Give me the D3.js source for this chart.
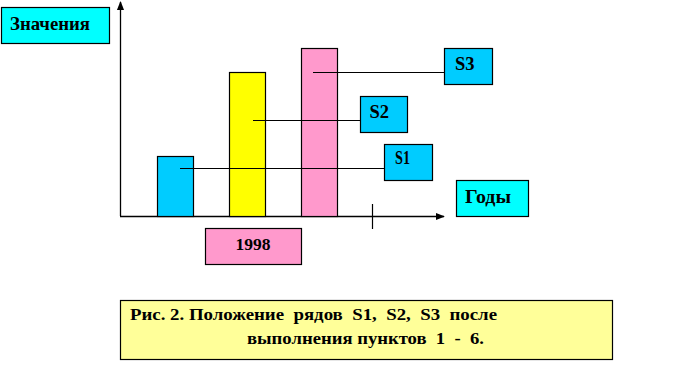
<!DOCTYPE html>
<html><head><meta charset="utf-8">
<script src="https://cdn.jsdelivr.net/npm/d3@7"></script>
<style>
html,body{margin:0;padding:0;background:#fff;}
svg{display:block;}
</style></head>
<body>
<svg id="c" width="673" height="385" font-family="Liberation Serif" font-weight="bold"></svg>
<script>
const categories = ["S1", "S2", "S3"];
const values = [2.5, 6, 7];
const pointerLevels = [2, 4, 6];
const yearLabel = "1998";
const yTitle = "Значения";
const xTitle = "Годы";
const captionLines = ["Рис. 2. Положение  рядов  S1,  S2,  S3  после", "выполнения пунктов  1  -  6."];

const barColors = ["#00CCFF", "#FFFF00", "#FF99CC"];
const svg = d3.select("#c");

const x = d3.scaleBand().domain(categories).range([139, 355]).paddingInner(0.5).paddingOuter(0.25);
const y = d3.scaleLinear().domain([0, 9]).range([216, 0]);

const defs = svg.append("defs");
defs.append("marker").attr("id","arr").attr("viewBox","0 0 10 10").attr("refX",9).attr("refY",5)
  .attr("markerWidth",9).attr("markerHeight",9).attr("markerUnits","userSpaceOnUse").attr("orient","auto")
  .append("path").attr("d","M0,1L10,5L0,9Z").attr("fill","#000");

// axes
svg.append("line").attr("x1",120.5).attr("y1",y(0)).attr("x2",120.5).attr("y2",2)
  .attr("stroke","#000").attr("stroke-width",1.3).attr("marker-end","url(#arr)");
svg.append("line").attr("x1",120).attr("y1",y(0)+0.5).attr("x2",444).attr("y2",y(0)+0.5)
  .attr("stroke","#000").attr("stroke-width",1.3).attr("marker-end","url(#arr)");
svg.append("line").attr("x1",372.5).attr("y1",204).attr("x2",372.5).attr("y2",229)
  .attr("stroke","#000").attr("stroke-width",1.2);

// bars
svg.selectAll("rect.bar").data(categories).enter().append("rect").attr("class","bar")
  .attr("x", d => x(d) + 0.5).attr("y", (d,i) => y(values[i]) + 0.5)
  .attr("width", x.bandwidth()).attr("height", (d,i) => y(0) - y(values[i]))
  .attr("fill", (d,i) => barColors[i]).attr("stroke","#000").attr("stroke-width",1.2);

function fitText(sel, w) {
  const n = sel.node().getComputedTextLength();
  if (Math.abs(n - w) > 1) sel.attr("textLength", w).attr("lengthAdjust", "spacingAndGlyphs");
  return sel;
}

// pointer label boxes
const labelBoxes = [
  {x:384.5, y:144.5, w:48, h:36, off:23, tx:395, ty:164, tw:15},
  {x:360.5, y:96.5, w:47, h:36, off:24, tx:369.5, ty:117.5, tw:19},
  {x:444.5, y:48.5, w:48, h:36, off:12, tx:455, ty:69.5, tw:19}
];
categories.forEach((c,i) => {
  const b = labelBoxes[i];
  const ly = Math.round(y(pointerLevels[i])) + 0.5;
  svg.append("line").attr("x1", x(c) + b.off).attr("y1", ly).attr("x2", b.x).attr("y2", ly)
    .attr("stroke","#000").attr("stroke-width",1.2);
  svg.append("rect").attr("x",b.x).attr("y",b.y).attr("width",b.w).attr("height",b.h)
    .attr("fill","#00CCFF").attr("stroke","#000").attr("stroke-width",1.2);
  fitText(svg.append("text").attr("x", b.tx).attr("y", b.ty).attr("font-size",18.5).text(c), b.tw);
});

function box(bx, by, w, h, fill, txt, tx, ty, fs, tw) {
  svg.append("rect").attr("x",bx).attr("y",by).attr("width",w).attr("height",h)
    .attr("fill",fill).attr("stroke","#000").attr("stroke-width",1.2);
  fitText(svg.append("text").attr("x",tx).attr("y",ty).attr("font-size",fs).text(txt), tw);
}
box(1.5, 7.5, 108, 36, "#00FFFF", yTitle, 10, 29.5, 19, 80);
box(456.5, 180.5, 72, 36, "#00FFFF", xTitle, 465, 202.5, 19.5, 46);
box(205.5, 228.5, 96, 36, "#FF99CC", yearLabel, 235.5, 249.5, 17.5, 35.5);

svg.append("rect").attr("x",120.5).attr("y",300.5).attr("width",492).attr("height",59)
  .attr("fill","#FFFF99").attr("stroke","#000").attr("stroke-width",1.2);
fitText(svg.append("text").attr("x",130).attr("y",320).attr("font-size",17)
  .attr("xml:space","preserve").style("white-space","pre").text(captionLines[0]), 367);
fitText(svg.append("text").attr("x",247).attr("y",343.5).attr("font-size",17)
  .attr("xml:space","preserve").style("white-space","pre").text(captionLines[1]), 237);
</script>
</body></html>
